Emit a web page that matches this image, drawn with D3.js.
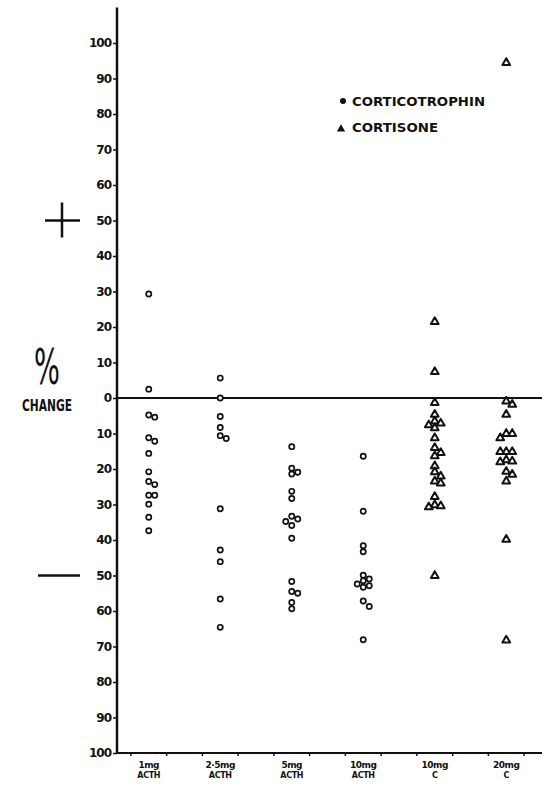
<!DOCTYPE html>
<html>
<head>
<meta charset="utf-8">
<script src="https://cdn.jsdelivr.net/npm/d3@7"></script>
<style>
body { margin: 0; background: #fff; }
</style>
</head>
<body>
<script>
var w = 554;
var h = 790;

// ---- data (% change) ----
var categories = ["1mg ACTH", "2·5mg ACTH", "5mg ACTH", "10mg ACTH", "10mg C", "20mg C"];
var labelTop = ["1mg", "2·5mg", "5mg", "10mg", "10mg", "20mg"];
var labelBottom = ["ACTH", "ACTH", "ACTH", "ACTH", "C", "C"];
var drug = ["ACTH", "ACTH", "ACTH", "ACTH", "C", "C"];

var acth1 = [29.3, 2.5, -4.8, -5.4, -11.2, -12.2, -15.6, -20.8, -23.5, -24.4, -27.4, -27.4, -29.9, -33.6, -37.4];
var acth25 = [5.6, 0, -5.2, -8.3, -10.6, -11.4, -31.2, -42.8, -46.1, -56.6, -64.6];
var acth5 = [-13.7, -19.8, -20.9, -21.4, -26.3, -28.3, -33.3, -34.1, -34.8, -35.9, -39.5, -51.7, -54.5, -55.0, -57.6, -59.4];
var acth10 = [-16.4, -31.9, -41.6, -43.3, -49.9, -51.0, -51.5, -52.4, -52.9, -53.3, -57.2, -58.7, -68.1];
var cort10 = [21.6, 7.5, -1.2, -4.5, -6.4, -7.0, -7.5, -8.3, -11.1, -13.9, -15.3, -16.2, -19.0, -20.7, -21.9, -23.3, -23.9, -27.7, -30.0, -30.3, -30.6, -49.9];
var cort20 = [94.6, -0.8, -1.7, -4.5, -9.9, -9.9, -11.1, -15.0, -15.0, -15.0, -17.3, -17.7, -17.9, -20.6, -21.4, -23.3, -39.7, -68.1];
var series = [acth1, acth25, acth5, acth10, cort10, cort20];

var yTicks = d3.range(-100, 101, 10);
var legendItems = ["CORTICOTROPHIN", "CORTISONE"];

var font = "'DejaVu Sans', sans-serif";

var svg = d3.select("body")
    .append("svg")
    .attr("width", w)
    .attr("height", h);

var axisX = 117;
var x = d3.scaleBand()
    .domain(categories)
    .range([113, 542])
    .padding(0);
var y = d3.scaleLinear()
    .domain([-100, 100])
    .range([753, 43]);

//-----y axis-----
var yAxis = svg.append("g")
    .attr("transform", "translate(" + axisX + ",0)")
    .call(d3.axisLeft(y).tickValues(yTicks).tickSize(4).tickPadding(2)
        .tickFormat(function (d) { return Math.abs(d); }));
yAxis.select(".domain").remove();
yAxis.selectAll("line").attr("stroke", "#111").attr("stroke-width", 1.5);
yAxis.selectAll("text")
    .attr("font-family", font)
    .attr("font-weight", "bold")
    .attr("font-size", 12)
    .attr("letter-spacing", -1)
    .attr("fill", "#111");

svg.append("line")
    .attr("x1", axisX).attr("x2", axisX)
    .attr("y1", y(110)).attr("y2", y(-100) + 1)
    .attr("stroke", "#111")
    .attr("stroke-width", 2.5);

//-----bottom line + zero line-----
svg.append("line")
    .attr("x1", axisX).attr("x2", x.range()[1])
    .attr("y1", y(-100)).attr("y2", y(-100))
    .attr("stroke", "#111")
    .attr("stroke-width", 2);

svg.append("line")
    .attr("x1", axisX).attr("x2", x.range()[1])
    .attr("y1", y(0)).attr("y2", y(0))
    .attr("stroke", "#111")
    .attr("stroke-width", 2);

// little ticks on the bottom line, two per group
var bw = x.bandwidth();
categories.forEach(function (c) {
    [0.25, 0.75].forEach(function (f) {
        svg.append("line")
            .attr("x1", x(c) + bw * f).attr("x2", x(c) + bw * f)
            .attr("y1", y(-100)).attr("y2", y(-100) + 3)
            .attr("stroke", "#111")
            .attr("stroke-width", 1.5);
    });
});

//-----category labels-----
categories.forEach(function (c, i) {
    svg.append("text")
        .text(labelTop[i])
        .attr("x", x(c) + bw / 2)
        .attr("y", 768)
        .attr("text-anchor", "middle")
        .attr("font-family", font)
        .attr("font-weight", "bold")
        .attr("font-size", 9)
        .attr("letter-spacing", -0.5)
        .attr("fill", "#111");
    svg.append("text")
        .text(labelBottom[i])
        .attr("x", x(c) + bw / 2)
        .attr("y", 778)
        .attr("text-anchor", "middle")
        .attr("font-family", font)
        .attr("font-weight", "bold")
        .attr("font-size", 8)
        .attr("letter-spacing", -0.3)
        .attr("fill", "#111");
});

//-----points (dodged sideways where they overlap)-----
var tri = d3.symbol().type(d3.symbolTriangle).size(26);
series.forEach(function (vals, i) {
    var cx = x(categories[i]) + bw / 2;
    var placed = [];
    vals.forEach(function (v) {
        var py = y(v);
        var offs = [0, 6, -6, 12, -12, 18];
        var px = cx;
        for (var k = 0; k < offs.length; k++) {
            var tx = cx + offs[k];
            var hit = placed.some(function (p) {
                return Math.hypot(p[0] - tx, p[1] - py) < 5.5;
            });
            if (!hit) { px = tx; break; }
        }
        placed.push([px, py]);
        if (drug[i] === "ACTH") {
            svg.append("circle")
                .attr("cx", px).attr("cy", py)
                .attr("r", 2.6)
                .attr("fill", "#fff")
                .attr("stroke", "#111")
                .attr("stroke-width", 1.7);
        } else {
            svg.append("path")
                .attr("d", tri)
                .attr("transform", "translate(" + px + "," + (py + 0.5) + ")")
                .attr("fill", "#fff")
                .attr("stroke", "#111")
                .attr("stroke-width", 2)
                .attr("stroke-linejoin", "round");
        }
    });
});

//-----legend-----
svg.append("circle")
    .attr("cx", 343).attr("cy", 101)
    .attr("r", 3)
    .attr("fill", "#111");
svg.append("path")
    .attr("d", d3.symbol().type(d3.symbolTriangle).size(30))
    .attr("transform", "translate(341,129)")
    .attr("fill", "#111");
svg.append("text")
    .text(legendItems[0])
    .attr("x", 352).attr("y", 106)
    .attr("textLength", 133)
    .attr("lengthAdjust", "spacingAndGlyphs")
    .attr("font-family", font)
    .attr("font-weight", "bold")
    .attr("font-size", 13)
    .attr("fill", "#111");
svg.append("text")
    .text(legendItems[1])
    .attr("x", 352).attr("y", 132)
    .attr("textLength", 86)
    .attr("lengthAdjust", "spacingAndGlyphs")
    .attr("font-family", font)
    .attr("font-weight", "bold")
    .attr("font-size", 13)
    .attr("fill", "#111");

//-----plus / minus / % change-----
svg.append("line")
    .attr("x1", 45).attr("x2", 80)
    .attr("y1", y(50)).attr("y2", y(50))
    .attr("stroke", "#111").attr("stroke-width", 2.5);
svg.append("line")
    .attr("x1", 62).attr("x2", 62)
    .attr("y1", y(50) - 18).attr("y2", y(50) + 17)
    .attr("stroke", "#111").attr("stroke-width", 2.5);
svg.append("line")
    .attr("x1", 38).attr("x2", 80)
    .attr("y1", y(-50)).attr("y2", y(-50))
    .attr("stroke", "#111").attr("stroke-width", 2.5);

// tall, narrow per-cent sign as in the original lettering
svg.append("text")
    .text("%")
    .attr("transform", "translate(47,384) scale(0.8,1.45)")
    .attr("text-anchor", "middle")
    .attr("font-family", font)
    .attr("font-size", 34)
    .attr("fill", "#111");
svg.append("text")
    .text("CHANGE")
    .attr("x", 22).attr("y", 411)
    .attr("textLength", 50)
    .attr("lengthAdjust", "spacingAndGlyphs")
    .attr("font-family", font)
    .attr("font-weight", "bold")
    .attr("font-size", 16)
    .attr("fill", "#111");
</script>
</body>
</html>
